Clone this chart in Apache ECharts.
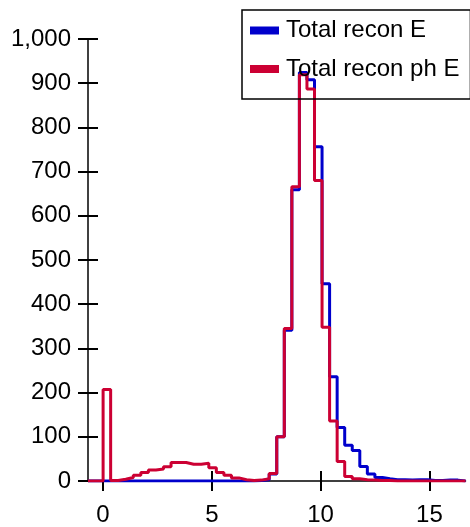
<!DOCTYPE html>
<html><head><meta charset="utf-8">
<script src="https://cdn.jsdelivr.net/npm/echarts@6/dist/echarts.min.js"></script>
<style>html,body{margin:0;padding:0;background:#fff}#c{width:470px;height:527px}</style>
</head><body><div id="c"></div>
<script>
const seriesNames = ['Total recon E', 'Total recon ph E'];
const binStart = -0.69;
const binWidth = 0.347;
const totalReconE = [0,0,0,0,0,0,0,0,0,0, 0,0,0,0,0,0,0,0,0,0, 0,0,1,3,16,100,341,659,924,908, 756,446,236,121,81,69,33,16,8,5, 3,3,2,3,3,1,1,2,2,0];
const totalReconPhE = [0,0,207,1,4,8,13,19,25,27, 32,42,42,38,38,40,30,19,13,7, 3,1,2,5,17,100,345,666,919,887, 680,348,136,44,10,5,3,2,1,1, 0,0,0,0,0,0,0,0,0,0];
const xTicks = [0, 5, 10, 15];
const yTicks = [0,100,200,300,400,500,600,700,800,900,1000];

const FONT = 'Liberation Sans, Arial, sans-serif';
const xMax = binStart + totalReconE.length * binWidth;
function steps(vals) {
  const pts = vals.map((v, i) => [binStart + i * binWidth, v]);
  pts.push([binStart + vals.length * binWidth, vals[vals.length - 1]]);
  return pts;
}
const chart = echarts.init(document.getElementById('c'), null, {renderer: 'canvas'});
const tickStyle = {color: '#000', width: 2};
chart.setOption({
  animation: false,
  backgroundColor: '#fff',
  grid: {left: 88, right: 4.5, top: 39, bottom: 44, containLabel: false},
  legend: {
    left: 242, top: 10, orient: 'vertical', icon: 'rect',
    itemWidth: 29, itemHeight: 8, itemGap: 6.5,
    borderColor: '#000', borderWidth: 1.5, padding: [4.5, 11, 14, 8],
    textStyle: {fontSize: 24, lineHeight: 26, color: '#000', fontFamily: FONT, padding: [6, 0, 0, 2]},
    data: seriesNames
  },
  xAxis: [
    {type: 'value', min: binStart, max: xMax, position: 'bottom',
     axisLine: {show: true, onZero: false, lineStyle: {color: '#000', width: 1.5}},
     axisTick: {show: true, customValues: xTicks, length: 10, lineStyle: tickStyle},
     axisLabel: {customValues: xTicks, fontSize: 24, color: '#000', fontFamily: FONT, margin: 22},
     splitLine: {show: false}},
    {type: 'value', min: binStart, max: xMax, position: 'bottom',
     axisLine: {show: false, onZero: false},
     axisTick: {show: true, inside: true, customValues: xTicks, length: 10, lineStyle: tickStyle},
     axisLabel: {show: false}, splitLine: {show: false}}
  ],
  yAxis: [
    {type: 'value', min: 0, max: 1000, interval: 100, position: 'left',
     axisLine: {show: true, onZero: false, lineStyle: {color: '#000', width: 1.5}},
     axisTick: {show: true, length: 10, lineStyle: tickStyle},
     axisLabel: {fontSize: 24, color: '#000', fontFamily: FONT, margin: 17,
                 formatter: v => v.toLocaleString('en-US')},
     splitLine: {show: false}},
    {type: 'value', min: 0, max: 1000, interval: 100, position: 'left',
     axisLine: {show: false, onZero: false},
     axisTick: {show: true, inside: true, length: 10, lineStyle: tickStyle},
     axisLabel: {show: false}, splitLine: {show: false}}
  ],
  series: [
    {name: seriesNames[0], type: 'line', step: 'end', symbol: 'none',
     data: steps(totalReconE), color: '#0000cc',
     lineStyle: {color: '#0000cc', width: 3}, itemStyle: {color: '#0000cc'}},
    {name: seriesNames[1], type: 'line', step: 'end', symbol: 'none',
     data: steps(totalReconPhE), color: '#cc0033',
     lineStyle: {color: '#cc0033', width: 3}, itemStyle: {color: '#cc0033'}}
  ]
});
</script></body></html>
